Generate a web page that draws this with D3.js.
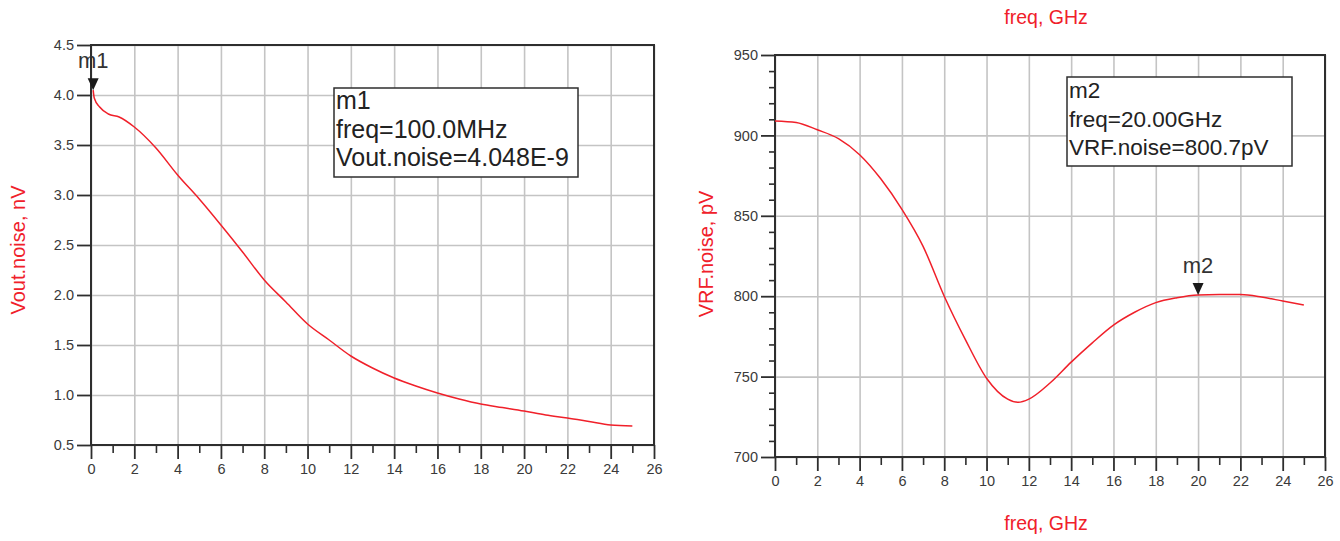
<!DOCTYPE html>
<html>
<head>
<meta charset="utf-8">
<script src="https://cdn.jsdelivr.net/npm/d3@7"></script>
<style>
    body { margin: 0; background: #ffffff; }
    svg { display: block; font-family: "Liberation Sans", Arial, sans-serif; }
    .tick text { fill: #3a3a3a; font-size: 14.5px; }
    .frame line, .frame path { stroke: #2e2e2e; }
</style>
</head>
<body>
<script>
//=====================================================================//
//  DATA
//=====================================================================//

    // left plot: Vout.noise (nV) versus freq (GHz)
    var voutFreq  = [0.1, 0.15, 0.4, 0.8, 1.3, 2, 3, 4, 5, 6, 7, 8, 9, 10, 11, 12, 13, 14, 15, 16, 17, 18, 19, 20, 21, 22, 23, 24, 25];
    var voutNoise = [4.048, 3.97, 3.88, 3.81, 3.78, 3.68, 3.47, 3.20, 2.96, 2.70, 2.43, 2.15, 1.93, 1.71, 1.55, 1.39, 1.27, 1.17, 1.09, 1.02, 0.96, 0.91, 0.875, 0.84, 0.80, 0.77, 0.735, 0.70, 0.69];

    // right plot: VRF.noise (pV) versus freq (GHz)
    var vrfFreq  = [0, 1, 2, 3, 4, 5, 6, 7, 8, 9, 10, 11, 11.5, 12, 13, 14, 15, 16, 17, 18, 19, 20, 21, 22, 23, 24, 25];
    var vrfNoise = [909, 908, 903.5, 898, 888, 873, 854, 831, 800, 773, 749, 736, 734, 736, 746, 759, 771, 782, 790, 796, 799, 800.7, 801, 801, 799.5, 797, 794.5];

    // tick labels
    var freqTicks = [0, 2, 4, 6, 8, 10, 12, 14, 16, 18, 20, 22, 24, 26];
    var voutTicks = [0.5, 1.0, 1.5, 2.0, 2.5, 3.0, 3.5, 4.0, 4.5];
    var vrfTicks  = [700, 750, 800, 850, 900, 950];

    // markers
    var m1 = {name: "m1", freq: 0.1, value: 4.048, lines: ["m1", "freq=100.0MHz", "Vout.noise=4.048E-9"]};
    var m2 = {name: "m2", freq: 20, value: 800.7, lines: ["m2", "freq=20.00GHz", "VRF.noise=800.7pV"]};

//=====================================================================//
//  SVG
//=====================================================================//

    var svg = d3.select("body")
        .append("svg")
        .attr("width", 1340)
        .attr("height", 541);

    var red = "#f0202a";

//=====================================================================//
//  LEFT PLOT
//=====================================================================//

    var x1 = d3.scaleLinear().domain([0, 26]).range([91, 654]);
    var y1 = d3.scaleLinear().domain([0.5, 4.5]).range([445, 45]);

    drawPlot(x1, y1, voutTicks, null, d3.format(".1f"));

    svg.append("path")
        .datum(d3.zip(voutFreq, voutNoise))
        .attr("fill", "none")
        .attr("stroke", red)
        .attr("stroke-width", 1.5)
        .attr("d", d3.line().curve(d3.curveMonotoneX).x(function(d) { return x1(d[0]); }).y(function(d) { return y1(d[1]); }));

    svg.append("text")
        .attr("transform", "translate(25,250) rotate(-90)")
        .attr("text-anchor", "middle")
        .style("font-size", "20px")
        .style("fill", red)
        .text("Vout.noise, nV");

    drawMarker(x1, y1, m1);
    drawReadout(m1, 334, 88, 244, 89, 25);

//=====================================================================//
//  RIGHT PLOT
//=====================================================================//

    var x2 = d3.scaleLinear().domain([0, 26]).range([775, 1325]);
    var y2 = d3.scaleLinear().domain([700, 950]).range([457, 55]);

    drawPlot(x2, y2, vrfTicks, d3.range(700, 951, 10), d3.format("d"));

    svg.append("path")
        .datum(d3.zip(vrfFreq, vrfNoise))
        .attr("fill", "none")
        .attr("stroke", red)
        .attr("stroke-width", 1.5)
        .attr("d", d3.line().curve(d3.curveMonotoneX).x(function(d) { return x2(d[0]); }).y(function(d) { return y2(d[1]); }));

    svg.append("text")
        .attr("transform", "translate(713,254) rotate(-90)")
        .attr("text-anchor", "middle")
        .style("font-size", "20px")
        .style("fill", red)
        .text("VRF.noise, pV");

    // x titles (the top one belongs to a plot cut off above)
    svg.append("text")
        .attr("x", 1046).attr("y", 24)
        .attr("text-anchor", "middle")
        .style("font-size", "19.5px")
        .style("fill", red)
        .text("freq, GHz");
    svg.append("text")
        .attr("x", 1046).attr("y", 530)
        .attr("text-anchor", "middle")
        .style("font-size", "19.5px")
        .style("fill", red)
        .text("freq, GHz");

    drawMarker(x2, y2, m2);
    drawReadout(m2, 1067, 77, 225, 89, 22.5);

//=====================================================================//
//  FUNCTIONS
//=====================================================================//

    // grid, frame, ticks
    function drawPlot(x, y, yTicks, yMinor, fmt) {
        var x0 = x.range()[0], xr = x.range()[1];
        var yb = y.range()[0], yt = y.range()[1];

        // gridlines
        svg.append("g")
            .attr("transform", "translate(0," + yb + ")")
            .call(d3.axisBottom(x).tickValues(freqTicks).tickSize(-(yb - yt)).tickFormat(""))
            .call(function(g) { g.select(".domain").remove(); g.selectAll("line").attr("stroke", "#c4c4c4").attr("stroke-width", 1.6); });
        svg.append("g")
            .attr("transform", "translate(" + x0 + ",0)")
            .call(d3.axisLeft(y).tickValues(yTicks).tickSize(-(xr - x0)).tickFormat(""))
            .call(function(g) { g.select(".domain").remove(); g.selectAll("line").attr("stroke", "#c4c4c4").attr("stroke-width", 1.6); });

        // minor ticks
        svg.append("g")
            .attr("class", "frame")
            .attr("transform", "translate(0," + yb + ")")
            .call(d3.axisBottom(x).tickValues(d3.range(1, 26, 2)).tickSize(8).tickFormat(""))
            .call(function(g) { g.select(".domain").remove(); g.selectAll("line").attr("stroke-width", 1.6); });
        if (yMinor) {
            svg.append("g")
                .attr("class", "frame")
                .attr("transform", "translate(" + x0 + ",0)")
                .call(d3.axisLeft(y).tickValues(yMinor.filter(function(v) { return yTicks.indexOf(v) < 0; })).tickSize(6).tickFormat(""))
                .call(function(g) { g.select(".domain").remove(); g.selectAll("line").attr("stroke-width", 1.6); });
        }

        // major ticks + labels
        svg.append("g")
            .attr("class", "frame")
            .attr("transform", "translate(0," + yb + ")")
            .call(d3.axisBottom(x).tickValues(freqTicks).tickSize(14).tickPadding(5).tickFormat(d3.format("d")))
            .call(function(g) { g.select(".domain").remove(); g.selectAll("line").attr("stroke-width", 1.8); });
        svg.append("g")
            .attr("class", "frame")
            .attr("transform", "translate(" + x0 + ",0)")
            .call(d3.axisLeft(y).tickValues(yTicks).tickSize(14).tickPadding(3).tickFormat(fmt))
            .call(function(g) { g.select(".domain").remove(); g.selectAll("line").attr("stroke-width", 1.8); });

        // frame
        svg.append("rect")
            .attr("x", x0).attr("y", yt)
            .attr("width", xr - x0).attr("height", yb - yt)
            .attr("fill", "none")
            .attr("stroke", "#2e2e2e")
            .attr("stroke-width", 2);
    }

    // triangle marker with its name
    function drawMarker(x, y, m) {
        var px = x(m.freq), py = y(m.value);
        svg.append("path")
            .attr("d", "M" + (px - 5.5) + "," + (py - 12) + "L" + (px + 5.5) + "," + (py - 12) + "L" + px + "," + py + "Z")
            .attr("fill", "#1a1a1a");
        svg.append("text")
            .attr("x", px).attr("y", py - 22)
            .attr("text-anchor", "middle")
            .style("font-size", "22px")
            .style("fill", "#333")
            .text(m.name);
    }

    // readout box
    function drawReadout(m, bx, by, bw, bh, fs) {
        svg.append("rect")
            .attr("x", bx).attr("y", by)
            .attr("width", bw).attr("height", bh)
            .attr("fill", "#ffffff")
            .attr("stroke", "#2e2e2e")
            .attr("stroke-width", 1.5);
        svg.selectAll(null)
            .data(m.lines)
            .join("text")
            .attr("x", bx + 2)
            .attr("y", function(d, i) { return by + 21 + i * 28.5; })
            .style("font-size", fs + "px")
            .style("fill", "#222")
            .text(function(d) { return d; });
    }
</script>
</body>
</html>
